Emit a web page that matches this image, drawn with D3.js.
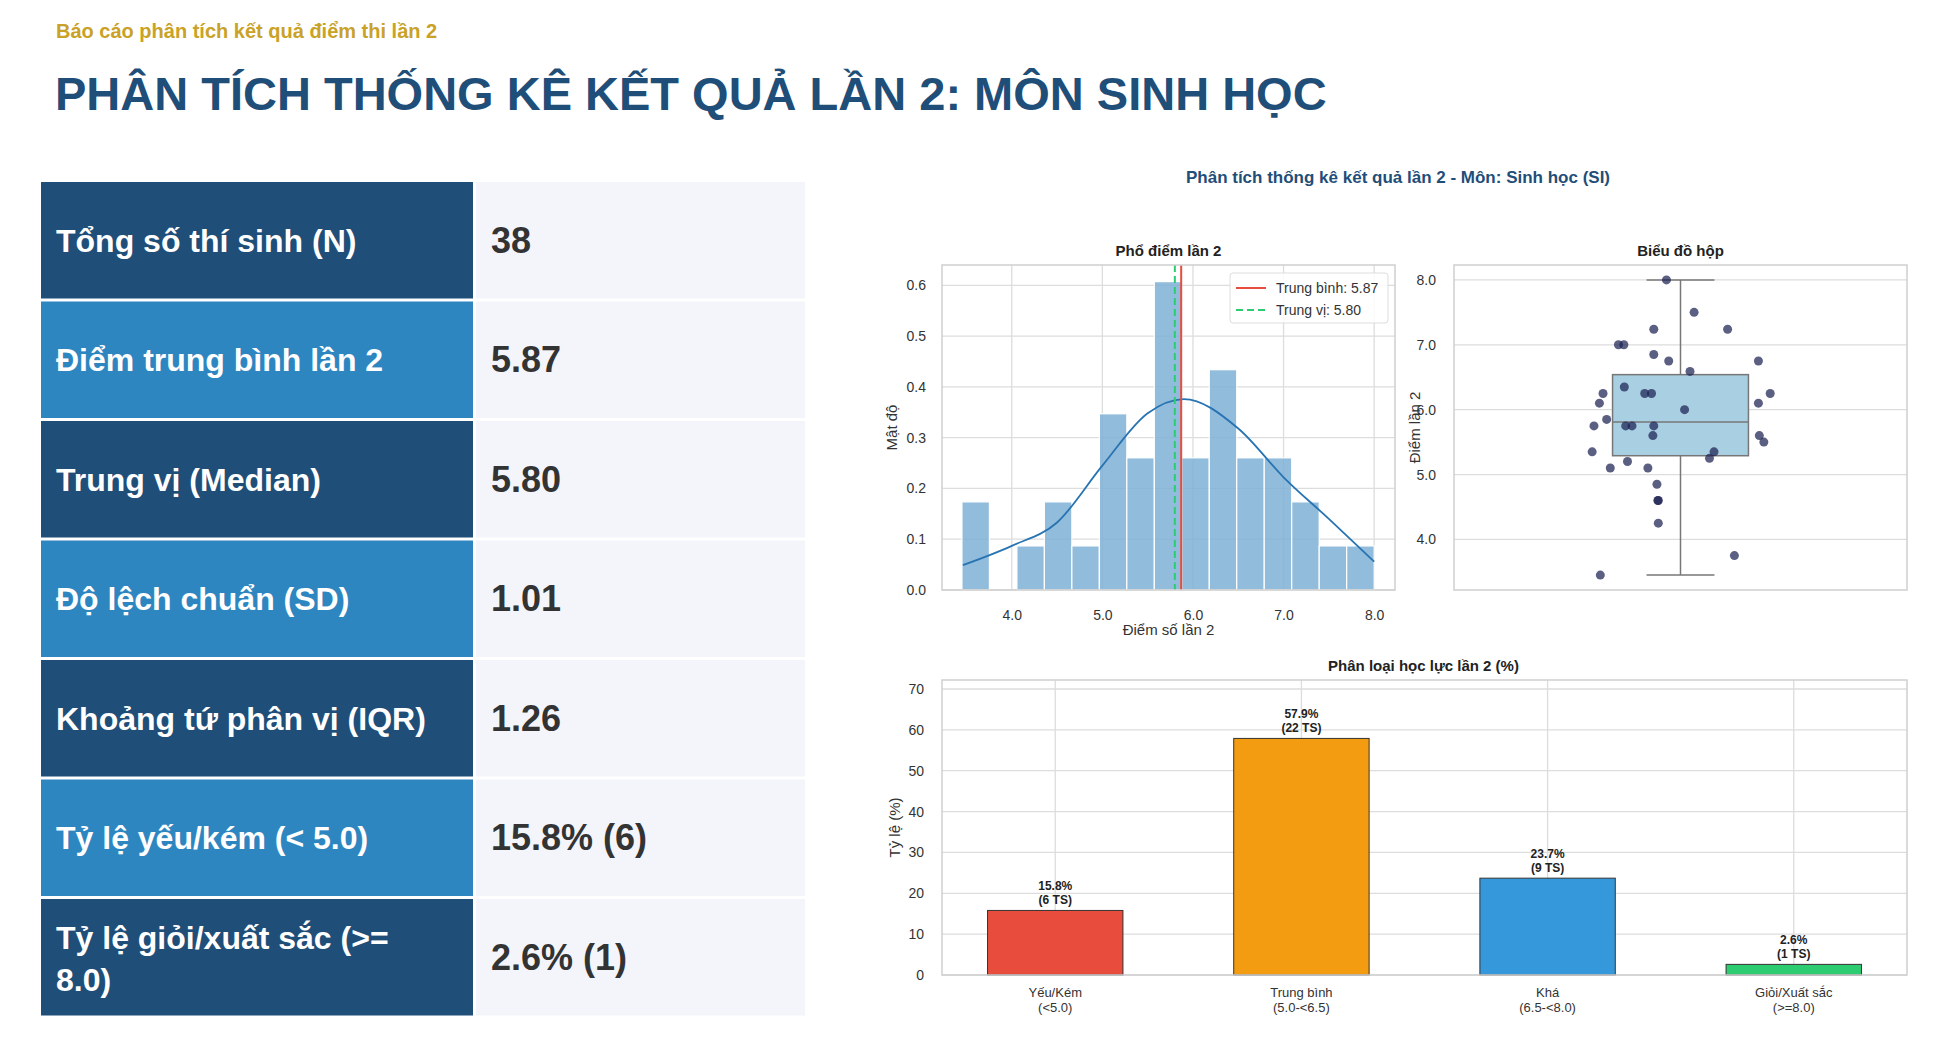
<!DOCTYPE html>
<html><head><meta charset="utf-8">
<script src="https://cdn.jsdelivr.net/npm/d3@7"></script>
<style>
body{margin:0;background:#fff;font-family:"Liberation Sans",Arial,sans-serif;}
</style></head>
<body><svg id="c" width="1935" height="1043"></svg>
<script>
// summary table
var statLabels = ["Tổng số thí sinh (N)", "Điểm trung bình lần 2", "Trung vị (Median)", "Độ lệch chuẩn (SD)",
  "Khoảng tứ phân vị (IQR)", "Tỷ lệ yếu/kém (< 5.0)", ["Tỷ lệ giỏi/xuất sắc (>=", "8.0)"]];
var statValues = ["38", "5.87", "5.80", "1.01", "1.26", "15.8% (6)", "2.6% (1)"];

// histogram
var binStart = 3.45, binEnd = 8.0;
var binCounts = [2, 0, 1, 2, 1, 4, 3, 7, 3, 5, 3, 3, 2, 1, 1];
var kdeX = [3.46, 4.0, 4.5, 5.0, 5.5, 5.9, 6.5, 7.0, 7.5, 8.0];
var kdeY = [0.049, 0.087, 0.133, 0.245, 0.348, 0.376, 0.318, 0.222, 0.14, 0.056];
var meanScore = 5.87, medianScore = 5.80;

// box plot
var boxStats = {q1: 5.29, med: 5.81, q3: 6.54, lo: 3.45, hi: 8.0};
var scores = [8.0,7.5,7.24,7.24,7.0,7.0,6.85,6.75,6.75,6.59,6.35,6.25,6.25,6.25,6.25,6.1,6.1,6.0,5.85,5.75,5.75,5.75,5.75,5.6,5.6,5.5,5.35,5.35,5.25,5.2,5.1,5.1,4.85,4.6,4.6,4.25,3.75,3.45];
var jitter = [-0.031,0.030,-0.059,0.104,-0.137,-0.125,-0.059,-0.026,0.172,0.021,-0.124,-0.171,-0.079,-0.064,0.198,-0.179,0.172,0.009,-0.163,-0.191,-0.121,-0.107,-0.059,-0.061,0.174,0.184,-0.195,0.074,0.064,-0.117,-0.155,-0.072,-0.052,-0.049,-0.050,-0.049,0.119,-0.177];

// classification bars
var classNames = [["Yếu/Kém", "(<5.0)"], ["Trung bình", "(5.0-<6.5)"], ["Khá", "(6.5-<8.0)"], ["Giỏi/Xuất sắc", "(>=8.0)"]];
var classPct = [15.8, 57.9, 23.7, 2.6];
var classCount = [6, 22, 9, 1];
var classColors = ["#e74c3c", "#f39c12", "#3498db", "#2ecc71"];

var svg = d3.select("#c");
var navy = "#1f4e79";

svg.append("text").attr("x", 56).attr("y", 38).attr("font-size", 20).attr("font-weight", "bold")
  .attr("fill", "#c9a227").text("Báo cáo phân tích kết quả điểm thi lần 2");
svg.append("text").attr("x", 55).attr("y", 110).attr("font-size", 47).attr("font-weight", "bold")
  .attr("fill", navy).text("PHÂN TÍCH THỐNG KÊ KẾT QUẢ LẦN 2: MÔN SINH HỌC");

// table
var rowH = 119.5, top0 = 182;
statLabels.forEach(function(lab, i) {
  var y = top0 + i * rowH;
  svg.append("rect").attr("x", 41).attr("y", y).attr("width", 432).attr("height", rowH - 3)
    .attr("fill", i % 2 ? "#2e86c1" : navy);
  svg.append("rect").attr("x", 476).attr("y", y).attr("width", 329).attr("height", rowH - 3).attr("fill", "#f3f5fa");
  var t = svg.append("text").attr("x", 56).attr("font-size", 32).attr("font-weight", "bold").attr("fill", "#fff");
  if (Array.isArray(lab)) {
    t.attr("y", y + 50).append("tspan").text(lab[0]);
    t.append("tspan").attr("x", 56).attr("dy", 42).text(lab[1]);
  } else t.attr("y", y + rowH / 2 + 10).text(lab);
  svg.append("text").attr("x", 491).attr("y", y + rowH / 2 + 11).attr("font-size", 36).attr("font-weight", "bold")
    .attr("fill", "#333").text(statValues[i]);
});

svg.append("text").attr("x", 1398).attr("y", 183).attr("text-anchor", "middle").attr("font-size", 17)
  .attr("font-weight", "bold").attr("fill", navy).text("Phân tích thống kê kết quả lần 2 - Môn: Sinh học (SI)");

function frame(g, w, h) {
  g.append("rect").attr("width", w).attr("height", h).attr("fill", "none").attr("stroke", "#cfcfcf").attr("stroke-width", 1.5);
}
function styleAxis(a) {
  a.select(".domain").remove();
  a.selectAll("line").remove();
  a.selectAll("text").attr("font-size", 14).attr("fill", "#333");
}

// ---- histogram
var hx0 = 942, hy0 = 265, hw = 453, hh = 325;
var gh = svg.append("g").attr("transform", `translate(${hx0},${hy0})`);
var xH = d3.scaleLinear().domain([3.23, 8.23]).range([0, hw]);
var yH = d3.scaleLinear().domain([0, 0.64]).range([hh, 0]);
var nb = binCounts.length, bw = (binEnd - binStart) / nb, n = d3.sum(binCounts);
[0, 0.1, 0.2, 0.3, 0.4, 0.5, 0.6].forEach(function(v) {
  gh.append("line").attr("x1", 0).attr("x2", hw).attr("y1", yH(v)).attr("y2", yH(v)).attr("stroke", "#ddd").attr("stroke-width", 1.3);
});
[4, 5, 6, 7, 8].forEach(function(v) {
  gh.append("line").attr("x1", xH(v)).attr("x2", xH(v)).attr("y1", 0).attr("y2", hh).attr("stroke", "#ddd").attr("stroke-width", 1.3);
});
gh.selectAll(".hb").data(binCounts).enter().append("rect")
  .attr("x", (d, i) => xH(binStart + i * bw)).attr("width", xH(bw) - xH(0))
  .attr("y", d => yH(d / (n * bw))).attr("height", d => hh - yH(d / (n * bw)))
  .attr("fill", "#7fb0d6").attr("fill-opacity", 0.85).attr("stroke", "#fff").attr("stroke-width", 1.2);
gh.append("path").datum(kdeX.map((x, i) => [x, kdeY[i]]))
  .attr("d", d3.line().x(d => xH(d[0])).y(d => yH(d[1])).curve(d3.curveMonotoneX))
  .attr("fill", "none").attr("stroke", "#2874b2").attr("stroke-width", 1.8);
gh.append("line").attr("x1", xH(meanScore)).attr("x2", xH(meanScore)).attr("y1", 0).attr("y2", hh).attr("stroke", "#e74c3c").attr("stroke-width", 2);
gh.append("line").attr("x1", xH(medianScore)).attr("x2", xH(medianScore)).attr("y1", 0).attr("y2", hh).attr("stroke", "#2ecc71").attr("stroke-width", 2).attr("stroke-dasharray", "7,4");
frame(gh, hw, hh);
styleAxis(gh.append("g").attr("transform", `translate(0,${hh})`).call(d3.axisBottom(xH).tickValues([4, 5, 6, 7, 8]).tickPadding(14)));
styleAxis(gh.append("g").call(d3.axisLeft(yH).tickValues([0, 0.1, 0.2, 0.3, 0.4, 0.5, 0.6]).tickFormat(d3.format(".1f")).tickPadding(10)));
gh.append("text").attr("x", hw / 2).attr("y", -9).attr("text-anchor", "middle").attr("font-size", 15).attr("font-weight", "bold").attr("fill", "#222").text("Phổ điểm lần 2");
gh.append("text").attr("x", hw / 2).attr("y", hh + 45).attr("text-anchor", "middle").attr("font-size", 15).attr("fill", "#333").text("Điểm số lần 2");
gh.append("text").attr("transform", `translate(-45,${hh / 2}) rotate(-90)`).attr("text-anchor", "middle").attr("font-size", 15).attr("fill", "#333").text("Mật độ");
var lg = gh.append("g").attr("transform", `translate(${hw - 165},8)`);
lg.append("rect").attr("width", 158).attr("height", 50).attr("rx", 3).attr("fill", "#fff").attr("fill-opacity", 0.85).attr("stroke", "#ddd");
lg.append("line").attr("x1", 6).attr("x2", 36).attr("y1", 15).attr("y2", 15).attr("stroke", "#e74c3c").attr("stroke-width", 2);
lg.append("line").attr("x1", 6).attr("x2", 36).attr("y1", 37).attr("y2", 37).attr("stroke", "#2ecc71").attr("stroke-width", 2).attr("stroke-dasharray", "7,4");
lg.append("text").attr("x", 46).attr("y", 20).attr("font-size", 14).attr("fill", "#333").text("Trung bình: " + meanScore.toFixed(2));
lg.append("text").attr("x", 46).attr("y", 42).attr("font-size", 14).attr("fill", "#333").text("Trung vị: " + medianScore.toFixed(2));

// ---- box plot
var bx0 = 1454, bww = 453;
var gb = svg.append("g").attr("transform", `translate(${bx0},${hy0})`);
var xB = d3.scaleLinear().domain([-0.5, 0.5]).range([0, bww]);
var yB = d3.scaleLinear().domain([3.22, 8.23]).range([hh, 0]);
[4, 5, 6, 7, 8].forEach(function(v) {
  gb.append("line").attr("x1", 0).attr("x2", bww).attr("y1", yB(v)).attr("y2", yB(v)).attr("stroke", "#ddd").attr("stroke-width", 1.3);
});
var half = 0.15, cap = 0.075;
gb.append("line").attr("x1", xB(0)).attr("x2", xB(0)).attr("y1", yB(boxStats.hi)).attr("y2", yB(boxStats.lo)).attr("stroke", "#777").attr("stroke-width", 1.5);
[boxStats.hi, boxStats.lo].forEach(function(v) {
  gb.append("line").attr("x1", xB(-cap)).attr("x2", xB(cap)).attr("y1", yB(v)).attr("y2", yB(v)).attr("stroke", "#777").attr("stroke-width", 1.5);
});
gb.append("rect").attr("x", xB(-half)).attr("width", xB(half) - xB(-half)).attr("y", yB(boxStats.q3)).attr("height", yB(boxStats.q1) - yB(boxStats.q3))
  .attr("fill", "#a9cfe3").attr("stroke", "#777").attr("stroke-width", 1.5);
gb.append("line").attr("x1", xB(-half)).attr("x2", xB(half)).attr("y1", yB(boxStats.med)).attr("y2", yB(boxStats.med)).attr("stroke", "#777").attr("stroke-width", 1.5);
gb.selectAll(".pt").data(scores).enter().append("circle")
  .attr("cx", (d, i) => xB(jitter[i])).attr("cy", d => yB(d)).attr("r", 4.5)
  .attr("fill", "#1c2152").attr("fill-opacity", 0.72);
frame(gb, bww, hh);
styleAxis(gb.append("g").call(d3.axisLeft(yB).tickValues([4, 5, 6, 7, 8]).tickPadding(12)));
gb.append("text").attr("x", bww / 2).attr("y", -9).attr("text-anchor", "middle").attr("font-size", 15).attr("font-weight", "bold").attr("fill", "#222").text("Biểu đồ hộp");
gb.append("text").attr("transform", `translate(-34,${hh / 2}) rotate(-90)`).attr("text-anchor", "middle").attr("font-size", 15).attr("fill", "#333").text("Điểm lần 2");

// ---- bars
var cy0 = 680, cw = 965, ch = 295;
var gc = svg.append("g").attr("transform", `translate(${hx0},${cy0})`);
var xC = d3.scaleLinear().domain([-0.46, 3.46]).range([0, cw]);
var yC = d3.scaleLinear().domain([0, 72.2]).range([ch, 0]);
d3.range(0, 71, 10).forEach(function(v) {
  gc.append("line").attr("x1", 0).attr("x2", cw).attr("y1", yC(v)).attr("y2", yC(v)).attr("stroke", "#ddd").attr("stroke-width", 1.3);
});
classPct.forEach(function(v, i) {
  gc.append("line").attr("x1", xC(i)).attr("x2", xC(i)).attr("y1", 0).attr("y2", ch).attr("stroke", "#ddd").attr("stroke-width", 1.3);
});
gc.selectAll(".cb").data(classPct).enter().append("rect")
  .attr("x", (d, i) => xC(i - 0.275)).attr("width", xC(0.275) - xC(-0.275))
  .attr("y", d => yC(d)).attr("height", d => ch - yC(d))
  .attr("fill", (d, i) => classColors[i]).attr("stroke", "#333").attr("stroke-width", 1);
classPct.forEach(function(v, i) {
  var t = gc.append("text").attr("x", xC(i)).attr("y", yC(v) - 20).attr("text-anchor", "middle").attr("font-size", 12).attr("font-weight", "bold").attr("fill", "#222");
  t.append("tspan").text(v.toFixed(1) + "%");
  t.append("tspan").attr("x", xC(i)).attr("dy", 14).text("(" + classCount[i] + " TS)");
  var l = gc.append("text").attr("x", xC(i)).attr("y", ch + 22).attr("text-anchor", "middle").attr("font-size", 13).attr("fill", "#333");
  l.append("tspan").text(classNames[i][0]);
  l.append("tspan").attr("x", xC(i)).attr("dy", 15).text(classNames[i][1]);
});
frame(gc, cw, ch);
styleAxis(gc.append("g").call(d3.axisLeft(yC).tickValues(d3.range(0, 71, 10)).tickPadding(12)));
gc.append("text").attr("x", cw / 2 - 1).attr("y", -9).attr("text-anchor", "middle").attr("font-size", 15).attr("font-weight", "bold").attr("fill", "#222").text("Phân loại học lực lần 2 (%)");
gc.append("text").attr("transform", `translate(-42,${ch / 2}) rotate(-90)`).attr("text-anchor", "middle").attr("font-size", 15).attr("fill", "#333").text("Tỷ lệ (%)");
</script></body></html>
